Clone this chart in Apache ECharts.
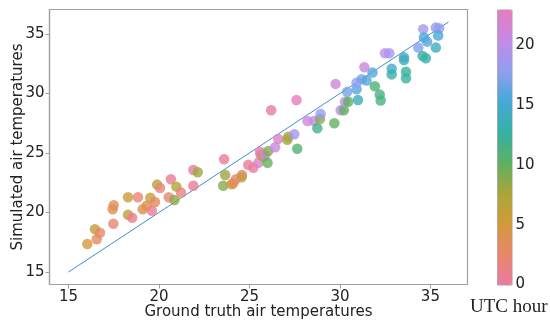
<!DOCTYPE html>
<html>
<head>
<meta charset="utf-8">
<script src="https://cdn.jsdelivr.net/npm/echarts@6/dist/echarts.min.js"></script>
<style>
html,body{margin:0;padding:0;background:#fff;}
#chart{width:550px;height:326px;}
</style>
</head>
<body>
<div id="chart"></div>
<script>
// Ground truth (x), simulated (y), UTC hour (colour)
const groundTruth = [
16.04,16.56,16.46,16.74,17.48,17.44,17.50,18.29,18.29,18.52,
18.84,19.10,19.32,19.52,19.78,19.61,19.90,20.06,20.54,20.66,
20.96,21.22,20.85,21.90,22.14,21.90,23.60,23.66,23.55,24.02,
24.10,24.25,24.59,24.57,24.93,25.21,25.49,25.58,25.62,25.76,
25.86,26.04,26.00,26.42,26.59,26.20,27.09,27.15,27.48,27.64,
27.60,28.21,28.58,28.90,28.93,28.75,29.69,30.04,30.22,30.28,
30.46,29.76,31.35,30.40,30.92,31.00,30.92,31.20,31.47,31.80,
31.93,32.20,32.25,32.49,32.73,32.86,32.86,33.54,33.54,33.65,
33.65,34.33,34.57,34.75,34.60,34.64,34.82,35.30,35.48,35.43,
35.30
];
const simulated = [
17.35,17.75,18.60,18.30,19.06,20.27,20.60,21.28,19.80,19.56,
21.28,20.27,20.57,21.24,20.88,20.15,22.34,22.06,21.28,22.79,
22.17,21.67,21.05,23.57,23.38,22.25,24.47,23.15,22.25,22.37,
22.45,22.79,23.15,22.96,24.00,23.76,24.18,25.10,24.83,24.69,
24.83,25.17,24.18,25.48,26.18,28.59,26.10,26.37,26.57,25.36,
29.45,27.69,27.69,27.86,28.28,27.08,27.50,28.59,28.59,29.30,
29.30,30.80,32.20,30.13,30.35,29.45,30.90,31.20,31.08,31.75,
30.60,29.90,29.40,33.37,33.37,32.08,31.60,33.03,32.80,31.83,
31.27,33.85,33.15,32.96,35.40,34.70,34.35,35.53,35.48,34.86,
33.85
];
const utcHour = [
5,3,6,3,2,4,3.5,5.5,6.5,1,
2,4,4,5.5,3,0.5,7,2,2,0.5,
7,1.5,8.5,0.5,8,0.5,0.5,8,9,4,
4.5,2,1.5,6,0.5,0.5,22,23,0,7,
21,9,10,21,22,0,8,7.5,19,11,
23,21,20.5,8.5,18,12,10,20,10,20,
10,21,21,17,16,14,18,17,16,16,
11,11.5,11.5,20,19,15,13,15,14,12.5,
12.5,17.5,13,13,19,15.5,16,18,18.5,15.5,
14
];
const identityLine = [15, 36];
const xTicks = [15, 20, 25, 30, 35];
const yTicks = [15, 20, 25, 30, 35];
const hourTicks = [0, 5, 10, 15, 20];
const hourRange = [0, 23];
const palette = ['#e97ba0','#e8866a','#d29a3a','#a9a53a','#5cb262','#36b1a3','#45a9d6','#8f9ff0','#c48ae6','#e57cbd'];

const points = groundTruth.map((g, i) => [g, simulated[i], utcHour[i]]);
const linePts = identityLine.map(v => [v, v]);

const FONT = 'DejaVu Sans';
const GRAY = '#a0a0a0';
const chart = echarts.init(document.getElementById('chart'), null, {renderer: 'canvas'});
chart.setOption({
  animation: false,
  backgroundColor: '#fff',
  textStyle: {fontFamily: FONT},
  grid: [
    {left: 49.5, top: 9.5, width: 418, height: 275, show: true, borderColor: GRAY, borderWidth: 1.2,
     backgroundColor: 'transparent', outerBoundsMode: 'none', containLabel: false},
    {left: 497, top: 9.5, width: 14.5, height: 275, show: false, outerBoundsMode: 'none', containLabel: false}
  ],
  xAxis: [
    {type: 'value', gridIndex: 0, min: 13.95, max: 37.05,
     name: 'Ground truth air temperatures', nameLocation: 'middle', nameGap: 20, nameMoveOverlap: false,
     nameTextStyle: {fontSize: 15, color: '#222', fontFamily: FONT},
     axisLine: {show: true, lineStyle: {color: GRAY, width: 1.2}},
     axisTick: {show: true, length: 4, customValues: xTicks, lineStyle: {color: GRAY}},
     axisLabel: {customValues: xTicks, fontSize: 15, color: '#222', margin: 5, fontFamily: FONT},
     splitLine: {show: false}},
    {type: 'value', gridIndex: 1, show: false, min: 0, max: 1}
  ],
  yAxis: [
    {type: 'value', gridIndex: 0, min: 13.95, max: 37.05,
     name: 'Simulated air temperatures', nameLocation: 'middle', nameGap: 24, nameRotate: 90, nameMoveOverlap: false,
     nameTextStyle: {fontSize: 15, color: '#222', fontFamily: FONT},
     axisLine: {show: true, lineStyle: {color: GRAY, width: 1.2}},
     axisTick: {show: true, length: 4, customValues: yTicks, lineStyle: {color: GRAY}},
     axisLabel: {customValues: yTicks, fontSize: 15, color: '#222', margin: 5, fontFamily: FONT},
     splitLine: {show: false}},
    {type: 'value', gridIndex: 1, min: hourRange[0], max: hourRange[1], position: 'right',
     axisLine: {show: false},
     axisTick: {show: true, length: 4, customValues: hourTicks, lineStyle: {color: GRAY}},
     axisLabel: {customValues: hourTicks, fontSize: 15, color: '#222', margin: 4, fontFamily: FONT},
     splitLine: {show: false}}
  ],
  visualMap: {
    type: 'continuous', min: hourRange[0], max: hourRange[1], dimension: 2, seriesIndex: 0,
    left: 497, top: 9.5, itemWidth: 14.5, itemHeight: 275, calculable: false,
    text: null, showLabel: false, padding: 0, borderColor: GRAY, borderWidth: 1,
    inRange: {color: palette}
  },
  graphic: [
    {type: 'text', left: 470, top: 298, style: {text: 'UTC hour', font: '19px "Liberation Serif"', fill: '#222'}}
  ],
  series: [
    {type: 'scatter', xAxisIndex: 0, yAxisIndex: 0, data: points, symbolSize: 10.5, z: 3},
    {type: 'line', xAxisIndex: 0, yAxisIndex: 0, data: linePts, symbol: 'none', z: 2,
     lineStyle: {color: '#3d8fd1', width: 1}, silent: true}
  ]
});
</script>
</body>
</html>
